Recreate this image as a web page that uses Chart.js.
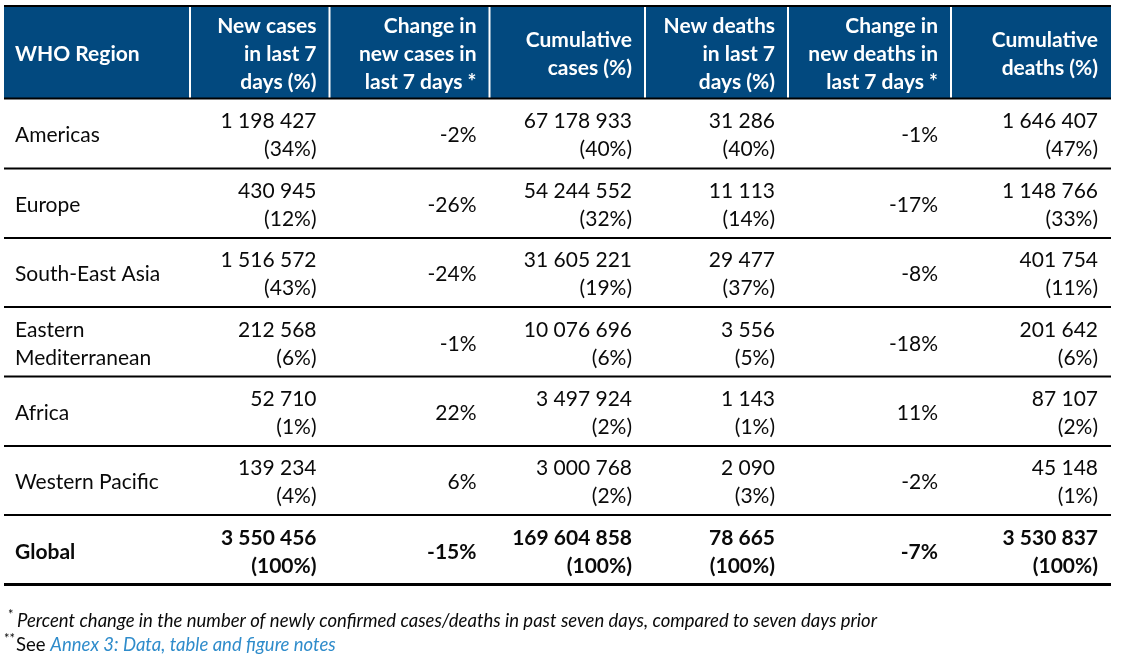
<!DOCTYPE html>
<html>
<head>
<meta charset="utf-8">
<script src="https://cdn.jsdelivr.net/npm/chart.js@4.4.0/dist/chart.umd.min.js"></script>
<style>
  html, body { margin: 0; background: #fff; }
  #wrap { width: 1122px; height: 662px; position: relative; }
</style>
</head>
<body>
<div id="wrap"><canvas id="whoTable"></canvas></div>
<script>
// table content
const headers = [
  ['WHO Region'],
  ['New cases', 'in last 7', 'days (%)'],
  ['Change in', 'new cases in', 'last 7 days *'],
  ['Cumulative', 'cases (%)'],
  ['New deaths', 'in last 7', 'days (%)'],
  ['Change in', 'new deaths in', 'last 7 days *'],
  ['Cumulative', 'deaths (%)']
];
const regions = ['Americas', 'Europe', 'South-East Asia', 'Eastern\nMediterranean', 'Africa', 'Western Pacific', 'Global'];
const newCases     = [1198427, 430945, 1516572, 212568, 52710, 139234, 3550456];
const newCasesPct  = [34, 12, 43, 6, 1, 4, 100];
const changeCases  = [-2, -26, -24, -1, 22, 6, -15];
const cumCases     = [67178933, 54244552, 31605221, 10076696, 3497924, 3000768, 169604858];
const cumCasesPct  = [40, 32, 19, 6, 2, 2, 100];
const newDeaths    = [31286, 11113, 29477, 3556, 1143, 2090, 78665];
const newDeathsPct = [40, 14, 37, 5, 1, 3, 100];
const changeDeaths = [-1, -17, -8, -18, 11, -2, -7];
const cumDeaths    = [1646407, 1148766, 401754, 201642, 87107, 45148, 3530837];
const cumDeathsPct = [47, 33, 11, 6, 2, 1, 100];

// layout (pixel units on the x/y scales)
const colEdges = [4, 190, 329.5, 489.5, 645, 788, 951, 1111];
const rowEdges = [6, 98.5, 168.5, 238, 307, 376.5, 446, 515, 584.5];
const padL = 11, padR = 13, lineH = 28, textNudge = 2;
const headBlue = '#02497F';
const linkBlue = '#2F8CCB';
const fontFam = 'Lato, "Open Sans", sans-serif';
const bodySize = 21;
const noteSize = 18.5;

const fmt = n => String(n).replace(/\B(?=(\d{3})+(?!\d))/g, ' ');

// cell text for each value column, built from the arrays
const columns = [
  newCases.map((v, i) => [fmt(v), '(' + newCasesPct[i] + '%)']),
  changeCases.map(v => [v + '%']),
  cumCases.map((v, i) => [fmt(v), '(' + cumCasesPct[i] + '%)']),
  newDeaths.map((v, i) => [fmt(v), '(' + newDeathsPct[i] + '%)']),
  changeDeaths.map(v => [v + '%']),
  cumDeaths.map((v, i) => [fmt(v), '(' + cumDeathsPct[i] + '%)'])
];

const rowMid = r => (rowEdges[r + 1] + rowEdges[r + 2]) / 2;

const datasets = columns.map((col, c) => ({
  label: headers[c + 1].join(' '),
  data: col.map((lines, r) => ({ x: colEdges[c + 2] - padR, y: rowMid(r), lines: lines })),
  pointRadius: 0
}));
datasets.unshift({
  label: 'WHO Region',
  data: regions.map((name, r) => ({ x: colEdges[0] + padL, y: rowMid(r), lines: name.split('\n') })),
  pointRadius: 0
});

function drawLines(ctx, lines, x, y, align) {
  ctx.textAlign = align;
  const top = y - (lines.length - 1) * lineH / 2;
  lines.forEach((t, k) => ctx.fillText(t, x, top + k * lineH));
}

const tablePlugin = {
  id: 'tablePlugin',
  afterDatasetsDraw(chart) {
    const ctx = chart.ctx;
    const xs = chart.scales.x, ys = chart.scales.y;
    const px = v => xs.getPixelForValue(v);
    const py = v => ys.getPixelForValue(v);
    ctx.save();
    ctx.textBaseline = 'middle';

    // header band
    ctx.fillStyle = headBlue;
    ctx.fillRect(px(colEdges[0]), py(rowEdges[0]), px(colEdges[7]) - px(colEdges[0]), py(rowEdges[1]) - py(rowEdges[0]));
    ctx.strokeStyle = '#fff';
    ctx.lineWidth = 2;
    for (let c = 1; c < colEdges.length - 1; c++) {
      ctx.beginPath();
      ctx.moveTo(px(colEdges[c]), py(rowEdges[0]));
      ctx.lineTo(px(colEdges[c]), py(rowEdges[1]));
      ctx.stroke();
    }

    // horizontal rules
    ctx.strokeStyle = '#000';
    rowEdges.forEach((e, i) => {
      ctx.lineWidth = i === rowEdges.length - 1 ? 3 : 2;
      ctx.beginPath();
      ctx.moveTo(px(colEdges[0]), py(e));
      ctx.lineTo(px(colEdges[7]), py(e));
      ctx.stroke();
    });

    // header text
    ctx.fillStyle = '#fff';
    ctx.font = 'bold ' + bodySize + 'px ' + fontFam;
    const hMid = (py(rowEdges[0]) + py(rowEdges[1])) / 2 + textNudge;
    headers.forEach((h, c) => {
      if (c === 0) drawLines(ctx, h, px(colEdges[0] + padL), hMid, 'left');
      else drawLines(ctx, h, px(colEdges[c + 1] - padR), hMid, 'right');
    });

    // body cells from dataset elements
    chart.data.datasets.forEach((ds, d) => {
      const meta = chart.getDatasetMeta(d);
      meta.data.forEach((el, r) => {
        const bold = r === regions.length - 1;
        ctx.font = (bold ? 'bold ' : '') + bodySize + 'px ' + fontFam;
        ctx.fillStyle = '#0a0a0a';
        drawLines(ctx, ds.data[r].lines, el.x, el.y + textNudge, d === 0 ? 'left' : 'right');
      });
    });

    // footnotes
    ctx.textAlign = 'left';
    ctx.fillStyle = '#0a0a0a';
    ctx.font = '13px ' + fontFam;
    ctx.fillText('*', 8, 615);
    ctx.font = 'italic ' + noteSize + 'px ' + fontFam;
    ctx.fillText('Percent change in the number of newly confirmed cases/deaths in past seven days, compared to seven days prior', 17, 621);
    ctx.font = '13px ' + fontFam;
    ctx.fillText('**', 4, 639);
    ctx.font = noteSize + 'px ' + fontFam;
    ctx.fillText('See', 16, 645);
    const seeW = ctx.measureText('See ').width;
    ctx.font = 'italic ' + noteSize + 'px ' + fontFam;
    ctx.fillStyle = linkBlue;
    ctx.fillText('Annex 3: Data, table and figure notes', 16 + seeW, 645);
    ctx.restore();
  }
};

new Chart(document.getElementById('whoTable').getContext('2d'), {
  type: 'scatter',
  data: { datasets: datasets },
  options: {
    responsive: true,
    maintainAspectRatio: false,
    animation: false,
    events: [],
    layout: { padding: 0 },
    plugins: { legend: { display: false }, tooltip: { enabled: false } },
    scales: {
      x: { type: 'linear', min: 0, max: 1122, display: false },
      y: { type: 'linear', min: 0, max: 662, reverse: true, display: false }
    }
  },
  plugins: [tablePlugin]
});
</script>
</body>
</html>
